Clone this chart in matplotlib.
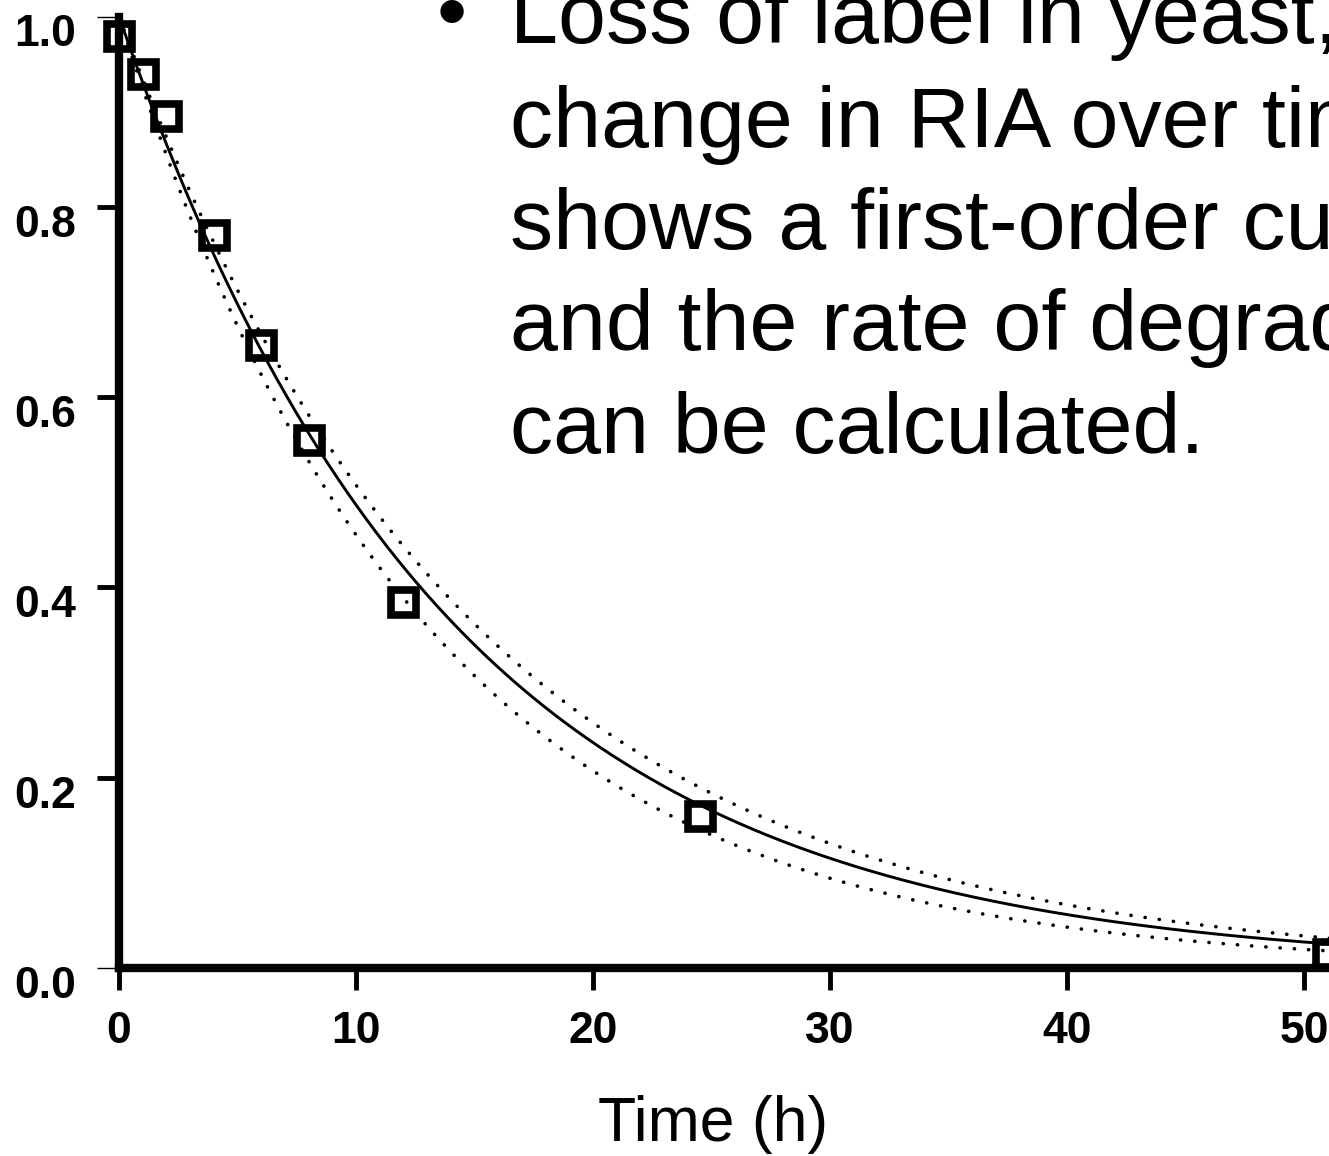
import numpy as np
import matplotlib
matplotlib.use("Agg")
import matplotlib.pyplot as plt
from matplotlib.transforms import ScaledTranslation

# measured label remaining (fraction of t=0 RIA)
time_h = [0, 1, 2, 4, 6, 8, 12, 24.5, 51]
ria = [0.98, 0.94, 0.895, 0.77, 0.655, 0.555, 0.385, 0.16, 0.015]

# first-order decay fit y = exp(-k t), with the 95% band limits
k_fit = 0.072
k_upper = 0.0678
k_lower = 0.0787

xticks = [0, 10, 20, 30, 40, 50]
yticks = [0.0, 0.2, 0.4, 0.6, 0.8, 1.0]

bullet_lines = [
    "Loss of label in yeast, the",
    "change in RIA over time",
    "shows a first-order curve",
    "and the rate of degradation",
    "can be calculated.",
]

plt.rcParams["font.family"] = "Liberation Sans"

W, H = 1329, 1156
fig = plt.figure(figsize=(W / 100, H / 100), dpi=100)
fig.patch.set_facecolor("white")

px_per_h = 23.7
x0, y0 = 119, 968
ytop = 16.5
ax = fig.add_axes([x0 / W, (H - y0) / H, 52 * px_per_h / W, (y0 - ytop) / H])
ax.set_xlim(0, 52)
ax.set_ylim(0, 1.0)

t = np.linspace(0, 52, 500)
dots = dict(color="black", lw=2.6, linestyle=(0, (0.05, 3.9)), dash_capstyle="round")
ax.plot(t, np.exp(-k_upper * t), **dots)
ax.plot(t, np.exp(-k_lower * t), **dots)
ax.plot(t, np.exp(-k_fit * t), color="black", lw=2.1)

ax.plot(time_h, ria, linestyle="none", marker="s", ms=18, mew=5.5,
        mfc="none", mec="black", clip_on=False)

for side in ["top", "right"]:
    ax.spines[side].set_visible(False)
for side in ["left", "bottom"]:
    ax.spines[side].set_linewidth(6)

ax.set_xticks(xticks)
ax.set_yticks(yticks)
ax.set_xticklabels([str(v) for v in xticks])
ax.set_yticklabels(["%.1f" % v for v in yticks])
ax.tick_params(axis="both", direction="out", length=16, width=3.5,
               labelsize=32, color="black")
ax.tick_params(axis="x", pad=15)
ax.tick_params(axis="y", pad=15)
for lab in ax.get_xticklabels() + ax.get_yticklabels():
    lab.set_fontweight("bold")

# y labels sit a little below their ticks
shift = ScaledTranslation(0, -14 / 100, fig.dpi_scale_trans)
for lab in ax.get_yticklabels():
    lab.set_transform(lab.get_transform() + shift)

# end ticks drawn faint
for i in (0, len(yticks) - 1):
    tk = ax.yaxis.get_major_ticks()[i]
    tk.tick1line.set_color("#999999")
    tk.tick1line.set_markeredgewidth(1.0)

ax.set_xlabel("Time (h)", fontsize=45)
ax.xaxis.set_label_coords((713 - x0) / (52 * px_per_h), -127 / (y0 - ytop))

# slide bullet text
fs = 62
baselines = [43, 147, 249, 350, 453]
fig.text(437 / W, 1 - 40 / H, "\u2022", fontsize=fs, va="baseline", ha="left")
for line, b in zip(bullet_lines, baselines):
    fig.text(510 / W, 1 - b / H, line, fontsize=fs, va="baseline", ha="left")

fig.savefig("out.png", dpi=100)
